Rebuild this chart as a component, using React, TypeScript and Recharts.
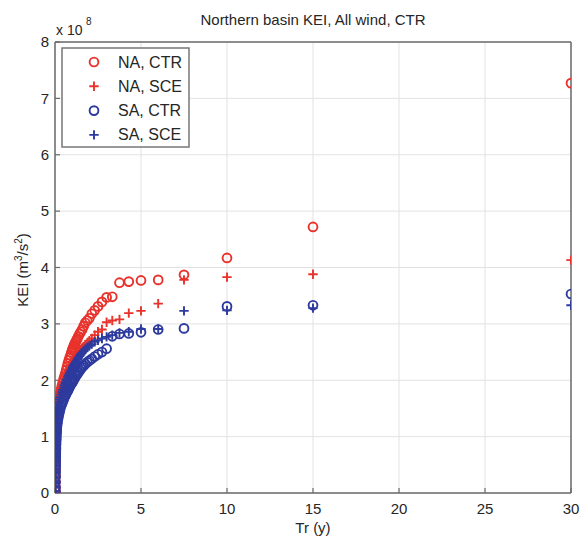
import React from 'react';
import { ScatterChart, Scatter, XAxis, YAxis, CartesianGrid } from 'recharts';

// Return period Tr (years)
const trValues = [
  30, 15, 10, 7.5, 6, 5, 4.29, 3.75, 3.33, 3.0, 2.73, 2.5, 2.31, 2.14, 2.0, 1.875, 1.76, 1.67, 1.58, 1.5,
  1.43, 1.36, 1.3, 1.25, 1.2, 1.15, 1.11, 1.07, 1.03, 1.0,
  0.95, 0.9, 0.85, 0.8, 0.75, 0.7, 0.65, 0.6, 0.55, 0.5, 0.45, 0.4, 0.35, 0.3, 0.27, 0.24, 0.21, 0.18, 0.15, 0.13, 0.115,
  0.1, 0.095, 0.09, 0.085, 0.08, 0.075, 0.07, 0.066, 0.062, 0.058, 0.055, 0.052, 0.05, 0.048, 0.046, 0.044, 0.042, 0.04,
  0.038, 0.036, 0.034, 0.032, 0.03, 0.028, 0.026,
];

// KEI values in units of 1e8 m^3/s^2
const naCtr = [
  7.27, 4.72, 4.17, 3.87, 3.78, 3.77, 3.75, 3.73, 3.48, 3.47, 3.39, 3.31, 3.24, 3.18, 3.1, 3.06, 3.02, 2.96, 2.9, 2.86,
  2.82, 2.78, 2.74, 2.71, 2.68, 2.65, 2.62, 2.59, 2.56, 2.53,
  2.49, 2.44, 2.4, 2.35, 2.3, 2.24, 2.18, 2.12, 2.07, 2.02, 1.96, 1.9, 1.84, 1.77, 1.73, 1.68, 1.64, 1.58, 1.52, 1.47, 1.42,
  1.38, 1.36, 1.34, 1.31, 1.28, 1.25, 1.21, 1.18, 1.14, 1.09, 1.05, 0.99, 0.95, 0.91, 0.86, 0.8, 0.74, 0.67,
  0.59, 0.5, 0.4, 0.3, 0.2, 0.1, 0.03,
];
const naSce = [
  4.13, 3.88, 3.83, 3.78, 3.36, 3.23, 3.19, 3.08, 3.06, 3.03, 2.9, 2.86, 2.8, 2.74, 2.7, 2.66, 2.63, 2.6, 2.57, 2.54,
  2.51, 2.48, 2.45, 2.43, 2.41, 2.38, 2.36, 2.34, 2.32, 2.3,
  2.27, 2.23, 2.2, 2.16, 2.13, 2.09, 2.05, 2.01, 1.97, 1.93, 1.89, 1.84, 1.79, 1.74, 1.7, 1.66, 1.62, 1.56, 1.5, 1.45, 1.4,
  1.35, 1.33, 1.31, 1.28, 1.25, 1.22, 1.18, 1.15, 1.11, 1.07, 1.03, 0.97, 0.93, 0.89, 0.84, 0.78, 0.72, 0.65,
  0.57, 0.48, 0.39, 0.29, 0.19, 0.1, 0.03,
];
const saCtr = [
  3.53, 3.33, 3.31, 2.92, 2.9, 2.85, 2.83, 2.82, 2.78, 2.56, 2.5, 2.46, 2.42, 2.38, 2.35, 2.32, 2.29, 2.26, 2.23, 2.2,
  2.17, 2.14, 2.11, 2.09, 2.07, 2.04, 2.02, 2.0, 1.98, 1.96,
  1.94, 1.91, 1.88, 1.85, 1.82, 1.79, 1.76, 1.73, 1.7, 1.66, 1.62, 1.58, 1.54, 1.49, 1.45, 1.41, 1.37, 1.32, 1.27, 1.23, 1.19,
  1.14, 1.12, 1.1, 1.08, 1.05, 1.02, 0.98, 0.95, 0.92, 0.88, 0.85, 0.8, 0.77, 0.73, 0.69, 0.65, 0.6, 0.55,
  0.49, 0.43, 0.36, 0.28, 0.19, 0.1, 0.03,
];
const saSce = [
  3.33, 3.28, 3.24, 3.23, 2.91, 2.91, 2.86, 2.84, 2.8, 2.77, 2.74, 2.71, 2.68, 2.64, 2.61, 2.58, 2.55, 2.52, 2.49, 2.46,
  2.43, 2.4, 2.37, 2.34, 2.32, 2.29, 2.27, 2.25, 2.23, 2.21,
  2.18, 2.15, 2.12, 2.09, 2.06, 2.02, 1.99, 1.95, 1.91, 1.87, 1.83, 1.79, 1.75, 1.7, 1.66, 1.62, 1.58, 1.53, 1.48, 1.43, 1.39,
  1.34, 1.32, 1.3, 1.27, 1.24, 1.21, 1.17, 1.14, 1.1, 1.05, 1.01, 0.96, 0.91, 0.87, 0.82, 0.76, 0.7, 0.63,
  0.56, 0.47, 0.38, 0.29, 0.19, 0.1, 0.03,
];

const xTicks = [0, 5, 10, 15, 20, 25, 30];
const yTicks = [0, 1, 2, 3, 4, 5, 6, 7, 8];
const seriesNames = ['NA, CTR', 'NA, SCE', 'SA, CTR', 'SA, SCE'];
const titleText = 'Northern basin KEI, All wind, CTR';

const RED = '#e8322b';
const BLUE = '#2d3a9e';
const FONT = '"Liberation Sans", Arial, Helvetica, sans-serif';
const AXIS = '#6b6b6b';
const TEXT = '#262626';

const toPoints = (vals: number[]) => trValues.map((tr, i) => ({ tr, v: vals[i] }));

const circleShape = (color: string) => (props: any) => {
  const { cx, cy } = props;
  if (cx == null || cy == null) return <g />;
  return <circle cx={cx} cy={cy} r={4.4} fill="none" stroke={color} strokeWidth={1.9} />;
};
const plusShape = (color: string) => (props: any) => {
  const { cx, cy } = props;
  if (cx == null || cy == null) return <g />;
  return (
    <path
      d={`M${cx - 4.7},${cy}H${cx + 4.7}M${cx},${cy - 4.7}V${cy + 4.7}`}
      stroke={color}
      strokeWidth={1.9}
      fill="none"
    />
  );
};

const W = 587;
const H = 540;
const PL = 55;
const PR = 571;
const PT = 42;
const PB = 493;
const XH = 30; // bottom axis height
const YW = 40; // left axis width
const SIDE = 2; // top / right axis size

export default function App() {
  const legendRows = [
    { name: seriesNames[0], color: RED, type: 'circle' },
    { name: seriesNames[1], color: RED, type: 'plus' },
    { name: seriesNames[2], color: BLUE, type: 'circle' },
    { name: seriesNames[3], color: BLUE, type: 'plus' },
  ];
  const lx = 62;
  const ly = 48;
  return (
    <div style={{ position: 'absolute', left: 0, top: 0, width: W, height: H, background: '#fff' }}>
      <ScatterChart
        width={W}
        height={H}
        margin={{ top: PT - SIDE, right: W - PR - SIDE, bottom: H - PB - XH, left: PL - YW }}
        style={{ fontFamily: FONT }}
      >
        <CartesianGrid stroke="#e2e2e2" strokeWidth={1} />
        <XAxis
          type="number"
          dataKey="tr"
          domain={[0, 30]}
          ticks={xTicks}
          height={XH}
          tickSize={-5}
          tickMargin={15}
          axisLine={{ stroke: AXIS, strokeWidth: 1.5 }}
          tickLine={{ stroke: AXIS, strokeWidth: 1.2 }}
          tick={{ fill: TEXT, fontSize: 15, fontFamily: FONT }}
          allowDataOverflow
        />
        <XAxis
          xAxisId="top"
          orientation="top"
          type="number"
          domain={[0, 30]}
          ticks={xTicks}
          height={SIDE}
          tickSize={-5}
          tick={false}
          axisLine={{ stroke: AXIS, strokeWidth: 1.5 }}
          tickLine={{ stroke: AXIS, strokeWidth: 1.2 }}
          allowDataOverflow
        />
        <YAxis
          type="number"
          dataKey="v"
          domain={[0, 8]}
          ticks={yTicks}
          width={YW}
          tickSize={-5}
          tickMargin={11}
          axisLine={{ stroke: AXIS, strokeWidth: 1.5 }}
          tickLine={{ stroke: AXIS, strokeWidth: 1.2 }}
          tick={{ fill: TEXT, fontSize: 15, fontFamily: FONT }}
          allowDataOverflow
        />
        <YAxis
          yAxisId="right"
          orientation="right"
          type="number"
          domain={[0, 8]}
          ticks={yTicks}
          width={SIDE}
          tickSize={-5}
          tick={false}
          axisLine={{ stroke: AXIS, strokeWidth: 1.5 }}
          tickLine={{ stroke: AXIS, strokeWidth: 1.2 }}
          allowDataOverflow
        />
        <Scatter name={seriesNames[0]} data={toPoints(naCtr)} shape={circleShape(RED)} isAnimationActive={false} />
        <Scatter name={seriesNames[1]} data={toPoints(naSce)} shape={plusShape(RED)} isAnimationActive={false} />
        <Scatter name={seriesNames[2]} data={toPoints(saCtr)} shape={circleShape(BLUE)} isAnimationActive={false} />
        <Scatter name={seriesNames[3]} data={toPoints(saSce)} shape={plusShape(BLUE)} isAnimationActive={false} />
      </ScatterChart>
      <svg
        width={W}
        height={H}
        style={{ position: 'absolute', left: 0, top: 0, pointerEvents: 'none', fontFamily: FONT }}
      >
        <text x={313} y={25} textAnchor="middle" fontSize={15} fill={TEXT}>
          {titleText}
        </text>
        <text x={56} y={35} fontSize={14} fill={TEXT}>
          x 10
        </text>
        <text x={86} y={25} fontSize={10} fill={TEXT}>
          8
        </text>
        <text x={313} y={533} textAnchor="middle" fontSize={15} fill={TEXT}>
          Tr (y)
        </text>
        <text transform="translate(28,270) rotate(-90)" textAnchor="middle" fontSize={15} fill={TEXT}>
          KEI (m
          <tspan dy={-6} fontSize={10}>3</tspan>
          <tspan dy={6}>/s</tspan>
          <tspan dy={-6} fontSize={10}>2</tspan>
          <tspan dy={6}>)</tspan>
        </text>
        <rect x={lx} y={ly} width={127} height={99} fill="#fff" stroke="#777" strokeWidth={1.5} />
        {legendRows.map((r, i) => {
          const cy = ly + 14 + i * 24.3;
          const cx = lx + 32;
          return (
            <g key={r.name}>
              {r.type === 'circle' ? (
                <circle cx={cx} cy={cy} r={4.4} fill="none" stroke={r.color} strokeWidth={1.9} />
              ) : (
                <path
                  d={`M${cx - 4.7},${cy}H${cx + 4.7}M${cx},${cy - 4.7}V${cy + 4.7}`}
                  stroke={r.color}
                  strokeWidth={1.9}
                />
              )}
              <text x={lx + 56} y={cy + 5.5} fontSize={16} fill={TEXT}>
                {r.name}
              </text>
            </g>
          );
        })}
      </svg>
    </div>
  );
}
